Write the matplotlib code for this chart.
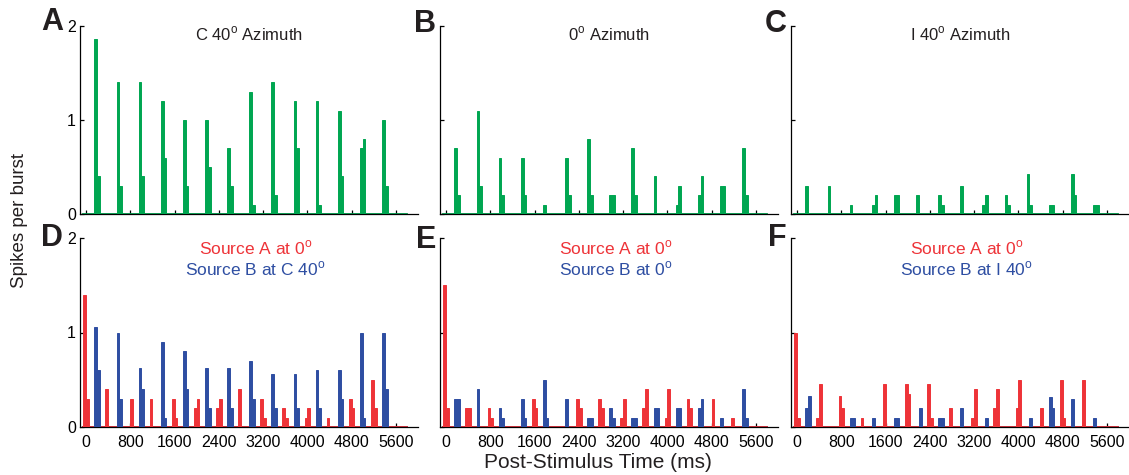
import numpy as np
import matplotlib
matplotlib.use("Agg")
from matplotlib import pyplot as plt

plt.rcParams['font.family'] = ['Liberation Sans', 'DejaVu Sans']
plt.rcParams['mathtext.fontset'] = 'custom'
plt.rcParams['mathtext.rm'] = 'Liberation Sans'

GREEN = "#00a651"
RED = "#ee3338"
BLUE = "#2e4ea2"

# burst onsets (ms): source A at 0, 400, ...; source B at 200, 600, ...
onset_a = np.arange(14) * 400
onset_b = np.arange(14) * 400 + 200
bin_ms = 50

# spikes per burst in the two 50 ms bins after each onset
a_first = [1.86, 1.4, 1.4, 1.2, 1.0, 1.0, 0.7, 1.3, 1.4, 1.2, 1.2, 1.1, 0.7, 1.0]
a_second = [0.4, 0.3, 0.4, 0.6, 0.3, 0.5, 0.3, 0.1, 0.2, 0.7, 0.1, 0.4, 0.8, 0.3]

b_first = [0.7, 1.1, 0.6, 0.6, 0.1, 0.6, 0.8, 0.2, 0.7, 0.4, 0.1, 0.2, 0.3, 0.7]
b_second = [0.2, 0.3, 0.2, 0.2, 0.0, 0.2, 0.2, 0.2, 0.2, 0.0, 0.3, 0.4, 0.3, 0.2]

c_first = [0.3, 0.3, 0.1, 0.1, 0.2, 0.2, 0.2, 0.3, 0.1, 0.2, 0.43, 0.1, 0.43, 0.1]
c_second = [0.0, 0.0, 0.0, 0.2, 0.2, 0.0, 0.1, 0.0, 0.2, 0.1, 0.1, 0.1, 0.2, 0.1]

d_red_first = [1.4, 0.4, 0.0, 0.3, 0.3, 0.2, 0.2, 0.4, 0.3, 0.2, 0.1, 0.1, 0.3, 0.5]
d_red_second = [0.3, 0.0, 0.3, 0.0, 0.1, 0.3, 0.3, 0.0, 0.1, 0.1, 0.2, 0.0, 0.2, 0.2]
d_blue_first = [1.06, 1.0, 0.62, 0.9, 0.8, 0.62, 0.62, 0.7, 0.56, 0.56, 0.6, 0.6, 1.0, 1.0]
d_blue_second = [0.6, 0.3, 0.4, 0.1, 0.4, 0.2, 0.2, 0.3, 0.2, 0.2, 0.2, 0.3, 0.1, 0.4]

e_red_first = [1.5, 0.2, 0.2, 0.0, 0.3, 0.0, 0.3, 0.3, 0.1, 0.2, 0.1, 0.3, 0.0, 0.1]
e_red_second = [0.2, 0.2, 0.1, 0.0, 0.2, 0.0, 0.2, 0.2, 0.3, 0.4, 0.4, 0.2, 0.3, 0.0]
e_blue_first = [0.3, 0.4, 0.2, 0.3, 0.5, 0.3, 0.1, 0.2, 0.1, 0.2, 0.2, 0.2, 0.1, 0.4]
e_blue_second = [0.3, 0.0, 0.1, 0.1, 0.1, 0.0, 0.1, 0.1, 0.1, 0.2, 0.2, 0.3, 0.0, 0.1]

f_red_first = [1.0, 0.1, 0.33, 0.1, 0.45, 0.45, 0.45, 0.2, 0.1, 0.2, 0.2, 0.0, 0.5, 0.5]
f_red_second = [0.1, 0.45, 0.2, 0.0, 0.0, 0.35, 0.1, 0.0, 0.4, 0.4, 0.5, 0.2, 0.1, 0.0]
f_blue_first = [0.2, 0.0, 0.1, 0.1, 0.1, 0.0, 0.1, 0.2, 0.0, 0.0, 0.0, 0.32, 0.3, 0.1]
f_blue_second = [0.33, 0.0, 0.1, 0.0, 0.1, 0.2, 0.1, 0.0, 0.1, 0.0, 0.1, 0.2, 0.0, 0.0]

xticks = np.arange(0, 5601, 800)

W, H = 1129, 475
fig = plt.figure(figsize=(W / 100, H / 100), dpi=100)


def make_axes(left_px, top_px, bottom_px, width_px=338):
    return fig.add_axes([left_px / W, 1 - bottom_px / H,
                         width_px / W, (bottom_px - top_px) / H])


def draw_psth(ax, onsets, first, second, color):
    ax.plot([-50, 5800], [0, 0], color=color, lw=1.3, zorder=2)
    for x, v in ((onsets - bin_ms / 2, first), (onsets + bin_ms / 2, second)):
        ax.bar(x, v, width=bin_ms, color=color, edgecolor=color,
               lw=0.7, zorder=3)


def style(ax, ylabels, xlabels):
    ax.set_xlim(-110, 6000)
    ax.set_ylim(0, 2)
    for s in ["top", "right"]:
        ax.spines[s].set_visible(False)
    ax.spines["left"].set_linewidth(0.9)
    ax.spines["bottom"].set_linewidth(0.9)
    ax.set_xticks(xticks)
    ax.set_yticks([0, 1, 2])
    ax.tick_params(direction="in", length=3, width=0.9, labelsize=11.5, pad=3)
    ax.tick_params(axis="x", pad=6)
    if not ylabels:
        ax.set_yticklabels([])
    if not xlabels:
        ax.set_xticklabels([])
    ax.patch.set_alpha(0)


lefts = [80, 440, 791]
axA = make_axes(lefts[0], 26, 214)
axB = make_axes(lefts[1], 26, 214)
axC = make_axes(lefts[2], 26, 214)
axD = make_axes(lefts[0], 238, 427)
axE = make_axes(lefts[1], 238, 427)
axF = make_axes(lefts[2], 238, 427)

draw_psth(axA, onset_b, a_first, a_second, GREEN)
draw_psth(axB, onset_b, b_first, b_second, GREEN)
draw_psth(axC, onset_b, c_first, c_second, GREEN)

for ax, (rf, rs, bf, bs) in zip(
        [axD, axE, axF],
        [(d_red_first, d_red_second, d_blue_first, d_blue_second),
         (e_red_first, e_red_second, e_blue_first, e_blue_second),
         (f_red_first, f_red_second, f_blue_first, f_blue_second)]):
    draw_psth(ax, onset_b, bf, bs, BLUE)
    draw_psth(ax, onset_a, rf, rs, RED)

style(axA, True, False)
style(axB, False, False)
style(axC, False, False)
style(axD, True, True)
style(axE, False, True)
style(axF, False, True)

deg = r"$^\mathrm{o}$"
titles = ["C 40" + deg + " Azimuth", "0" + deg + " Azimuth", "I 40" + deg + " Azimuth"]
for ax, t in zip([axA, axB, axC], titles):
    ax.text(0.5, 0.96, t, transform=ax.transAxes, ha="center", va="center",
            fontsize=12, color="#231f20")

b_labels = ["Source B at C 40" + deg, "Source B at 0" + deg, "Source B at I 40" + deg]
for ax, t in zip([axD, axE, axF], b_labels):
    ax.text(0.52, 0.945, "Source A at 0" + deg, transform=ax.transAxes,
            ha="center", va="center", fontsize=12.5, color=RED)
    ax.text(0.52, 0.835, t, transform=ax.transAxes,
            ha="center", va="center", fontsize=12.5, color=BLUE)

letters = [("A", 63, 22), ("B", 436, 24), ("C", 787, 24),
           ("D", 63, 238), ("E", 436, 240), ("F", 787, 238)]
for letter, x, y in letters:
    fig.text(x / W, 1 - y / H, letter, ha="right", va="center",
             fontsize=22, fontweight="bold", color="#231f20")

fig.text(20 / W, 1 - 221 / H, "Spikes per burst", rotation=90,
         ha="center", va="center", fontsize=13.5, color="#231f20")
fig.text(598 / W, 1 - 462 / H, "Post-Stimulus Time (ms)",
         ha="center", va="center", fontsize=15, color="#231f20")

fig.savefig("out.png", dpi=100)
